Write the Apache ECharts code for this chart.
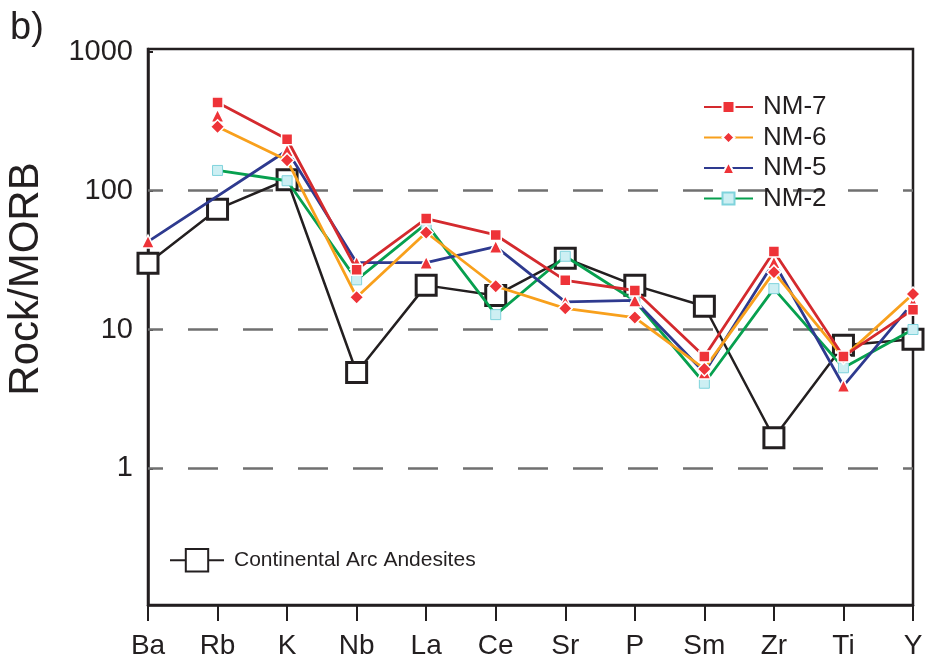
<!DOCTYPE html>
<html>
<head>
<meta charset="utf-8">
<script src="https://cdn.jsdelivr.net/npm/echarts@6/dist/echarts.min.js"></script>
<style>
  html, body { margin: 0; padding: 0; background: #fff; }
  #chart { width: 926px; height: 665px; }
</style>
</head>
<body>
<div id="chart"></div>
<script>
// Trace elements normalised to MORB
const categories = ['Ba', 'Rb', 'K', 'Nb', 'La', 'Ce', 'Sr', 'P', 'Sm', 'Zr', 'Ti', 'Y'];

const nm7 = [null, 433, 235, 27, 63, 48, 22.6, 19.1, 6.4, 36.5, 6.4, 13.9];
const nm6 = [null, 289, 166, 17.1, 50, 20.5, 14.2, 12.2, 5.2, 25.9, 6.3, 18];
const nm5 = [43, null, 195, 30.3, 30.3, 39.5, 15.8, 16.2, 4.9, 30.5, 3.93, 15.6];
const nm5Rb = 347;            // NM-5 Rb value, plotted without a connecting line
const nm2 = [null, 140, 118, 22.8, 58, 12.8, 33.7, 16.1, 4.1, 19.7, 5.3, 10];
const arcAndesites = [30, 73.6, 120, 4.9, 20.8, 17.6, 32.6, 20.8, 14.7, 1.66, 7.7, 8.5];

const yTickLabels = ['1', '10', '100', '1000'];
const gridValues = [1, 10, 100];
// the frame leaves a little room above 1000 and the bottom edge sits just above 0.1
const yMin = 0.1035;
const yMax = 1050;

const FONT = '"Liberation Sans", Arial, Helvetica, sans-serif';
const INK = '#231f20';
const RED = '#ee3338';

const chart = echarts.init(document.getElementById('chart'), null, { renderer: 'canvas' });

function sampleSeries(name, data, lineColor, symbol, symbolSize, itemStyle, z) {
  return {
    name: name,
    type: 'line',
    data: data,
    connectNulls: true,
    symbol: symbol,
    symbolSize: symbolSize,
    showSymbol: true,
    lineStyle: { color: lineColor, width: 2.8 },
    itemStyle: itemStyle,
    z: z,
    emphasis: { disabled: true }
  };
}

const redMarker = { color: RED, borderColor: '#fff', borderWidth: 1.5, opacity: 1 };

const option = {
  animation: false,
  backgroundColor: '#fff',
  textStyle: { fontFamily: FONT },
  grid: {
    left: 148, right: 13, top: 49, bottom: 60,
    outerBoundsMode: 'none',
    containLabel: false,
    show: true, borderColor: INK, borderWidth: 2.5, backgroundColor: 'transparent'
  },
  graphic: [{
    type: 'text', left: 10, top: 10,
    style: { text: 'b)', font: '38px ' + FONT, fill: INK }
  }, {
    type: 'text',
    x: 26, y: 279,
    rotation: Math.PI / 2,
    style: {
      text: 'Rock/MORB', font: '42px ' + FONT, fill: INK,
      align: 'center', verticalAlign: 'middle'
    }
  }],
  legend: [{
    data: ['NM-7', 'NM-6', 'NM-5', 'NM-2'],
    orient: 'vertical',
    left: 703, top: 94,
    itemWidth: 49, itemHeight: 15, itemGap: 4.5,
    padding: 0,
    selectedMode: false,
    textStyle: { fontSize: 26, lineHeight: 26, color: INK, fontFamily: FONT, padding: [0, 0, 0, 5] }
  }, {
    data: ['Continental Arc Andesites'],
    orient: 'vertical',
    left: 169, top: 548,
    itemWidth: 54, itemHeight: 28,
    padding: 0,
    selectedMode: false,
    textStyle: { fontSize: 21, color: INK, fontFamily: FONT, padding: [0, 0, 0, 5] }
  }],
  xAxis: {
    type: 'category',
    data: categories,
    boundaryGap: false,
    axisLine: { lineStyle: { color: INK, width: 2.5 } },
    axisTick: { show: true, length: 16, lineStyle: { color: INK, width: 2 } },
    axisLabel: { fontSize: 28, color: INK, fontFamily: FONT, margin: 27 },
    splitLine: { show: false }
  },
  yAxis: {
    type: 'log',
    logBase: 10,
    min: yMin,
    max: yMax,
    axisLine: { show: true, lineStyle: { color: INK, width: 2.5 } },
    axisTick: { show: true, inside: true, length: 5, lineStyle: { color: INK, width: 2 } },
    axisLabel: {
      fontSize: 29, color: INK, fontFamily: FONT, margin: 15,
      formatter: function (v) {
        const s = String(Math.round(v));
        return yTickLabels.indexOf(s) >= 0 && v >= 1 ? s : '';
      }
    },
    splitLine: { show: false }
  },
  series: [
    {
      name: 'Continental Arc Andesites',
      type: 'line',
      data: arcAndesites,
      symbol: 'rect',
      symbolSize: 20,
      lineStyle: { color: INK, width: 2.5 },
      itemStyle: { color: '#fff', borderColor: INK, borderWidth: 3 },
      z: 2,
      emphasis: { disabled: true },
      markLine: {
        silent: true,
        z: 1,
        symbol: 'none',
        label: { show: false },
        lineStyle: { color: '#707070', width: 2.5, type: [30, 25], dashOffset: 15 },
        data: gridValues.map(function (v) { return { yAxis: v }; })
      }
    },
    sampleSeries('NM-2', nm2, '#07a04f', 'rect', 10,
      { color: '#cdeff3', borderColor: '#7fd3dc', borderWidth: 1 }, 3),
    sampleSeries('NM-5', nm5, '#2e3a8f', 'triangle', 13, redMarker, 4),
    {
      name: 'NM-5',
      type: 'scatter',
      data: [['Rb', nm5Rb]],
      symbol: 'triangle',
      symbolSize: 13,
      itemStyle: redMarker,
      z: 4,
      emphasis: { disabled: true }
    },
    sampleSeries('NM-6', nm6, '#f8a01c', 'diamond', 14, redMarker, 5),
    sampleSeries('NM-7', nm7, '#d42a2e', 'rect', 11, redMarker, 6)
  ]
};

chart.setOption(option);
</script>
</body>
</html>
